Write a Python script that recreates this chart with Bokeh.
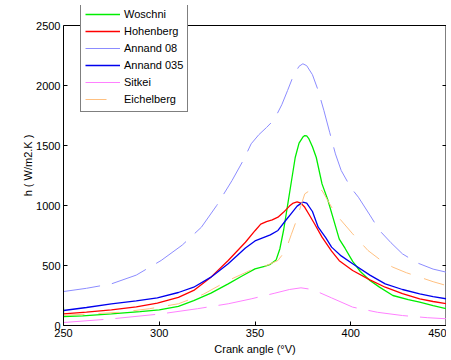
from bokeh.plotting import figure
from bokeh.models import Range1d, FixedTicker, Legend, LegendItem, Title
from bokeh.embed import file_html
from bokeh.resources import INLINE

# ---- data ----
woschni_x = [250, 250, 260, 275, 290, 300, 310, 318, 327, 336, 343, 350, 355, 358, 361, 363, 365, 367, 369, 371, 373, 375, 376, 377, 378, 380, 382, 385, 388, 391, 394, 397, 401, 405, 410, 415, 422, 430, 436, 443, 450]
woschni_y = [150, 75, 80, 97, 115, 131, 160, 208, 270, 347, 410, 472, 492, 510, 545, 640, 800, 1000, 1200, 1400, 1520, 1570, 1583, 1580, 1560, 1490, 1400, 1180, 1048, 884, 720, 644, 535, 450, 375, 320, 250, 215, 194, 165, 139]

hohen_x = [250, 262, 275, 288, 299, 310, 318, 327, 336, 345, 350, 353, 356, 359, 362, 365, 368, 370, 372, 374, 376, 378, 381, 385, 390, 394, 401, 410, 418, 427, 436, 443, 450]
hohen_y = [97, 112, 131, 155, 186, 235, 292, 403, 542, 694, 790, 845, 865, 880, 903, 945, 995, 1020, 1030, 1020, 985, 931, 850, 736, 620, 540, 458, 380, 319, 265, 222, 200, 181]

ann035_x = [250, 262, 275, 288, 299, 310, 318, 327, 336, 345, 350, 354, 358, 362, 366, 369, 372, 375, 377, 380, 383, 387, 390, 395, 401, 410, 418, 427, 436, 443, 450]
ann035_y = [125, 150, 181, 205, 231, 275, 319, 403, 514, 645, 705, 730, 755, 792, 875, 935, 995, 1028, 1020, 950, 819, 730, 653, 580, 514, 420, 347, 300, 264, 240, 222]

ann08_x = [250, 262, 275, 288, 301, 312, 322, 330, 338, 344, 348, 352, 356, 360, 364, 367, 370, 373, 375, 377, 380, 383, 386, 389, 392, 395, 400, 404, 410, 415, 421, 427, 435, 443, 450]
ann08_y = [283, 310, 347, 420, 542, 670, 819, 1000, 1208, 1380, 1514, 1590, 1650, 1715, 1840, 1958, 2080, 2160, 2181, 2165, 2090, 1958, 1790, 1610, 1430, 1292, 1150, 1069, 920, 792, 690, 597, 520, 470, 444]

sitkei_x = [250, 275, 301, 320, 336, 348, 360, 368, 374, 380, 390, 401, 414, 427, 440, 450]
sitkei_y = [25, 55, 97, 140, 181, 222, 268, 300, 314, 300, 230, 153, 110, 83, 65, 56]

eich_x = [250, 265, 280, 295, 310, 323, 336, 349, 356, 362, 366, 369, 371, 374, 376, 380, 385, 392, 401, 409, 416, 422, 429, 436, 443, 450]
eich_y = [85, 97, 111, 140, 181, 260, 375, 470, 500, 542, 625, 760, 847, 1000, 1097, 1140, 1125, 931, 764, 625, 540, 486, 440, 403, 365, 333]

x_ticks = [250, 300, 350, 400, 450]
y_ticks = [0, 500, 1000, 1500, 2000, 2500]

FONT = "Liberation Sans"

# frame extends 20px above the axes box so the legend (which pokes above it) is not clipped
FRAME_H = 320
BOX_H = 300
y_top = y_ticks[-1] * FRAME_H / BOX_H

p = figure(width=446, height=358, output_backend="svg", toolbar_location=None,
           x_range=Range1d(x_ticks[0], x_ticks[-1]), y_range=Range1d(0, y_top),
           min_border_left=63, min_border_right=0, min_border_top=5, min_border_bottom=33)
p.grid.visible = False
p.outline_line_color = None
p.background_fill_color = "white"
p.border_fill_color = "white"

for ax in (p.xaxis[0], p.yaxis[0]):
    ax.major_tick_in = 4
    ax.major_tick_out = 0
    ax.minor_tick_in = 0
    ax.minor_tick_out = 0
    ax.axis_line_color = "black"
    ax.major_label_text_font = FONT
    ax.major_label_text_font_size = "11px"
    ax.major_label_text_color = "black"
    ax.axis_label_text_font = FONT
    ax.axis_label_text_font_size = "11px"
    ax.axis_label_text_font_style = "normal"
    ax.axis_label_text_color = "black"

p.xaxis.ticker = FixedTicker(ticks=x_ticks)
p.yaxis.ticker = FixedTicker(ticks=y_ticks)
p.yaxis.bounds = (y_ticks[0], y_ticks[-1])
p.xaxis.axis_label = "Crank angle (°V)"
p.xaxis.major_label_standoff = 3
p.xaxis.axis_label_standoff = 3
p.yaxis.major_label_standoff = 3

# y label as a side title so it can be centred on the axes box (not the taller frame)
ytitle = Title(text="h ( W/m2.K )", align="center", offset=-10, standoff=0,
               text_font=FONT, text_font_size="11px", text_font_style="normal",
               text_color="black")
p.add_layout(ytitle, "left")

# box: top and right borders, with inward ticks on the right
p.segment(x0=[x_ticks[0]], y0=[y_ticks[-1]], x1=[x_ticks[-1]], y1=[y_ticks[-1]],
          line_color="black", line_width=1)
p.segment(x0=[x_ticks[-1]], y0=[y_ticks[0]], x1=[x_ticks[-1]], y1=[y_ticks[-1]],
          line_color="black", line_width=2)
p.ray(x=[x_ticks[-1]] * len(y_ticks), y=y_ticks, length=4, length_units="screen",
      angle=180, angle_units="deg", line_color="black", line_width=1)

r_w = p.line(woschni_x, woschni_y, line_color="#00ee00", line_width=1.3)
r_h = p.line(hohen_x, hohen_y, line_color="#ff0000", line_width=1.3)
r_a8 = p.line(ann08_x, ann08_y, line_color="#8c8cff", line_width=1.0, line_dash="37 12")
r_a35 = p.line(ann035_x, ann035_y, line_color="#0000ee", line_width=1.3)
r_s = p.line(sitkei_x, sitkei_y, line_color="#ff80ff", line_width=1.0, line_dash="40 12")
r_e = p.line(eich_x, eich_y, line_color="#ffc080", line_width=1.0, line_dash="21 14")

legend = Legend(items=[
    LegendItem(label="Woschni", renderers=[r_w]),
    LegendItem(label="Hohenberg", renderers=[r_h]),
    LegendItem(label="Annand 08", renderers=[r_a8]),
    LegendItem(label="Annand 035", renderers=[r_a35]),
    LegendItem(label="Sitkei", renderers=[r_s]),
    LegendItem(label="Eichelberg", renderers=[r_e]),
], location=(17, 213))
legend.label_text_font = FONT
legend.label_text_font_size = "11px"
legend.label_text_color = "black"
legend.glyph_width = 35
legend.glyph_height = 16
legend.label_height = 16
legend.label_standoff = 4
legend.spacing = 1
legend.padding = 4
legend.margin = 0
legend.border_line_color = "black"
legend.border_line_width = 1
legend.background_fill_color = "white"
legend.background_fill_alpha = 1
p.add_layout(legend)

open("out.html", "w").write(file_html(p, INLINE))
